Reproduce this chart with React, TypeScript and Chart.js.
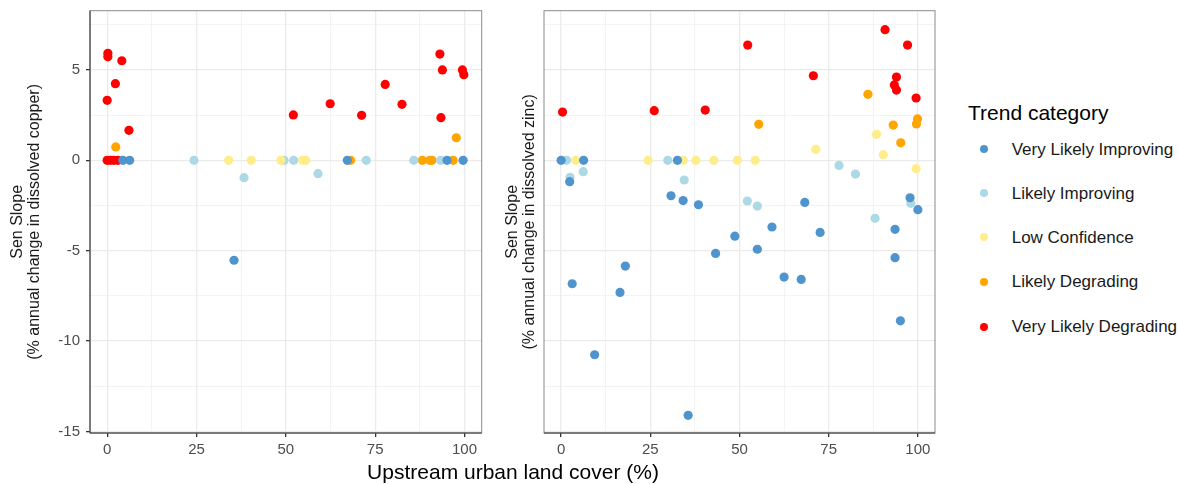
import React, { useEffect, useRef } from "react";
import { Chart, registerables } from "chart.js";

Chart.register(...registerables);

// ---------- data ----------
const categories = [
  "Very Likely Improving",
  "Likely Improving",
  "Low Confidence",
  "Likely Degrading",
  "Very Likely Degrading",
];
const categoryColors = ["#4F94CD", "#ADD8E6", "#FFEC8B", "#FFA500", "#FF0000"];
// higher value = drawn first (underneath)
const categoryDrawOrder = [1, 3, 2, 4, 5];

// copper panel: [upstream urban %, Sen slope]
const copperVeryLikelyImproving = [
  [4.4, 0], [6.3, 0], [35.5, -5.53], [67.2, 0], [95.1, 0], [99.6, 0],
];
const copperLikelyImproving = [
  [24.3, 0], [38.3, -0.96], [49.5, 0], [52.2, 0], [59.0, -0.74], [72.5, 0], [85.8, 0], [93.3, 0],
];
const copperLowConfidence = [
  [34.0, 0], [40.3, 0], [48.6, 0], [54.7, 0], [55.6, 0],
];
const copperLikelyDegrading = [
  [2.4, 0.74], [68.1, 0], [88.2, 0], [90.3, 0], [90.9, 0], [96.8, 0], [97.7, 1.25],
];
const copperVeryLikelyDegrading = [
  [0.2, 5.92], [0.2, 5.73], [4.1, 5.51], [2.3, 4.24], [0, 3.32], [6.1, 1.66],
  [0, 0], [0.9, 0], [1.9, 0], [3.0, 0],
  [52.1, 2.51], [62.4, 3.13], [71.2, 2.49], [77.8, 4.2], [82.5, 3.1],
  [93.1, 5.88], [93.8, 5.0], [93.4, 2.36], [99.4, 5.0], [99.8, 4.74],
];

// zinc panel
const zincVeryLikelyImproving = [
  [0, 0], [6.3, 0], [2.4, -1.18], [32.6, 0], [30.8, -1.96], [34.2, -2.23], [38.5, -2.46],
  [48.7, -4.2], [68.3, -2.33], [97.8, -2.07], [100, -2.73], [59.1, -3.69], [72.6, -3.99],
  [93.6, -3.82], [55.0, -4.92], [43.3, -5.15], [93.6, -5.39], [18.0, -5.85], [3.1, -6.83],
  [16.5, -7.31], [62.5, -6.46], [67.3, -6.59], [95.1, -8.88], [9.4, -10.76], [35.6, -14.11],
];
const zincLikelyImproving = [
  [1.5, 0], [2.5, -0.94], [6.2, -0.63], [29.9, 0], [34.5, -1.09], [52.2, -2.25],
  [55.0, -2.53], [77.9, -0.28], [82.5, -0.76], [98.0, -2.38], [88.0, -3.21],
];
const zincLowConfidence = [
  [4.1, 0], [24.4, 0], [34.2, 0], [37.8, 0], [42.8, 0], [49.4, 0], [54.4, 0],
  [71.4, 0.61], [88.4, 1.44], [90.3, 0.31], [99.5, -0.46],
];
const zincLikelyDegrading = [
  [86.0, 3.65], [55.4, 1.99], [93.1, 1.95], [99.9, 2.29], [99.6, 2.01], [95.2, 0.97],
];
const zincVeryLikelyDegrading = [
  [0.4, 2.67], [26.1, 2.75], [40.4, 2.78], [52.3, 6.38], [70.7, 4.68], [90.8, 7.23],
  [97.1, 6.38], [94.0, 4.61], [93.4, 4.17], [94.0, 3.89], [99.5, 3.45],
];

const copperSeries = [
  copperVeryLikelyImproving, copperLikelyImproving, copperLowConfidence,
  copperLikelyDegrading, copperVeryLikelyDegrading,
];
const zincSeries = [
  zincVeryLikelyImproving, zincLikelyImproving, zincLowConfidence,
  zincLikelyDegrading, zincVeryLikelyDegrading,
];

const xMajorTicks = [0, 25, 50, 75, 100];
const xMinorTicks = [12.5, 37.5, 62.5, 87.5];
const yMajorTicks = [-15, -10, -5, 0, 5];
const yMinorTicks = [-12.5, -7.5, -2.5, 2.5, 7.5];

const xRange = [-4.8, 104.8];
const yRange = [-15.09, 8.28];

const xAxisTitle = "Upstream urban land cover (%)";
const copperYTitle = ["Sen Slope", "(% annual change in dissolved copper)"];
const zincYTitle = ["Sen Slope", "(% annual change in dissolved zinc)"];
const legendTitle = "Trend category";

// ---------- chart helpers ----------
const FONT = "'Liberation Sans', Arial, Helvetica, sans-serif";

const panelFrame = (darkLeft: boolean) => ({
  id: "panelFrame",
  afterDatasetsDraw(chart: any) {
    const { ctx, chartArea: a } = chart;
    ctx.save();
    ctx.lineWidth = 1;
    ctx.strokeStyle = "#8a8a8a";
    ctx.strokeRect(a.left, a.top, a.right - a.left, a.bottom - a.top);
    ctx.strokeStyle = "#333333";
    ctx.beginPath();
    ctx.moveTo(a.left, a.bottom);
    ctx.lineTo(a.right, a.bottom);
    if (darkLeft) {
      ctx.moveTo(a.left, a.top);
      ctx.lineTo(a.left, a.bottom);
    }
    ctx.stroke();
    ctx.restore();
  },
});

function buildChart(
  canvas: HTMLCanvasElement,
  series: number[][][],
  yTitle: string[],
  showYLabels: boolean,
  yAxisWidth: number,
  padRight: number,
  titlePad: number
) {
  const isMajorX = (v: number) => xMajorTicks.includes(v);
  const isMajorY = (v: number) => yMajorTicks.includes(v);
  return new Chart(canvas, {
    type: "scatter",
    data: {
      datasets: series.map((pts, i) => ({
        label: categories[i],
        data: pts.map(([x, y]) => ({ x, y })),
        backgroundColor: categoryColors[i],
        borderWidth: 0,
        pointRadius: 4.6,
        pointHoverRadius: 4.6,
        order: categoryDrawOrder[i],
      })),
    },
    options: {
      animation: false,
      responsive: false,
      devicePixelRatio: 1,
      layout: { padding: { top: 10.7, right: padRight, left: 0, bottom: 0 } },
      plugins: { legend: { display: false }, tooltip: { enabled: false } },
      scales: {
        x: {
          type: "linear",
          min: xRange[0],
          max: xRange[1],
          afterBuildTicks: (s: any) => {
            s.ticks = [...xMajorTicks, ...xMinorTicks]
              .sort((a, b) => a - b)
              .map((v) => ({ value: v }));
          },
          afterFit: (s: any) => {
            s.height = 51;
            s.paddingLeft = 0;
            s.paddingRight = 0;
          },
          border: { display: false },
          grid: {
            color: "#EBEBEB",
            lineWidth: (c: any) => (isMajorX(c.tick.value) ? 1.3 : 0.6),
            drawTicks: true,
            tickLength: 4,
            tickColor: (c: any) => (isMajorX(c.tick.value) ? "#333333" : "rgba(0,0,0,0)"),
          },
          ticks: {
            autoSkip: false,
            maxRotation: 0,
            padding: 4,
            color: "#4D4D4D",
            font: { family: FONT, size: 15 },
            callback: (v: any) => (isMajorX(Number(v)) ? String(v) : ""),
          },
        },
        y: {
          type: "linear",
          min: yRange[0],
          max: yRange[1],
          afterBuildTicks: (s: any) => {
            s.ticks = [...yMajorTicks, ...yMinorTicks]
              .sort((a, b) => a - b)
              .map((v) => ({ value: v }));
          },
          afterFit: (s: any) => {
            s.width = yAxisWidth;
            s.paddingTop = 0;
            s.paddingBottom = 0;
          },
          border: { display: false },
          grid: {
            color: "#EBEBEB",
            lineWidth: (c: any) => (isMajorY(c.tick.value) ? 1.3 : 0.6),
            drawTicks: showYLabels,
            tickLength: 4,
            tickColor: (c: any) => (isMajorY(c.tick.value) ? "#333333" : "rgba(0,0,0,0)"),
          },
          ticks: {
            display: showYLabels,
            padding: 6,
            color: "#4D4D4D",
            font: { family: FONT, size: 15 },
            callback: (v: any) => (isMajorY(Number(v)) ? String(v) : ""),
          },
          title: {
            display: true,
            text: yTitle,
            color: "#1A1A1A",
            font: { family: FONT, size: 16, lineHeight: 1.06 },
            padding: { top: titlePad, bottom: 0 },
          },
        },
      },
    },
    plugins: [panelFrame(showYLabels)],
  } as any);
}

export default function App() {
  const leftRef = useRef<HTMLCanvasElement>(null);
  const rightRef = useRef<HTMLCanvasElement>(null);

  useEffect(() => {
    const c1 = buildChart(leftRef.current!, copperSeries, copperYTitle, true, 90, 8.3, 9);
    const c2 = buildChart(rightRef.current!, zincSeries, zincYTitle, false, 49, 5, 9.5);
    return () => {
      c1.destroy();
      c2.destroy();
    };
  }, []);

  const legendRows = [149.3, 193.3, 237.3, 281.7, 326.7];

  return (
    <div
      style={{
        position: "fixed",
        left: 0,
        top: 0,
        width: 1179,
        height: 484,
        background: "#FFFFFF",
        fontFamily: FONT,
        overflow: "hidden",
      }}
    >
      <canvas
        ref={leftRef}
        width={490}
        height={484}
        style={{ position: "absolute", left: 0, top: 0, width: 490, height: 484 }}
      />
      <canvas
        ref={rightRef}
        width={445}
        height={484}
        style={{ position: "absolute", left: 495, top: 0, width: 445, height: 484 }}
      />
      <div
        style={{
          position: "absolute",
          left: 513,
          top: 460.5,
          transform: "translateX(-50%)",
          fontSize: 21,
          lineHeight: "21px",
          whiteSpace: "nowrap",
          color: "#000000",
        }}
      >
        {xAxisTitle}
      </div>
      <div
        style={{
          position: "absolute",
          left: 968,
          top: 102.2,
          fontSize: 21,
          lineHeight: "21px",
          whiteSpace: "nowrap",
          color: "#000000",
        }}
      >
        {legendTitle}
      </div>
      {categories.map((cat, i) => (
        <React.Fragment key={cat}>
          <div
            style={{
              position: "absolute",
              left: 984.3 - 4,
              top: legendRows[i] - 4,
              width: 8,
              height: 8,
              borderRadius: "50%",
              background: categoryColors[i],
            }}
          />
          <div
            style={{
              position: "absolute",
              left: 1011.7,
              top: legendRows[i] - 8.3,
              fontSize: 17,
              lineHeight: "17px",
              whiteSpace: "nowrap",
              color: "#1A1A1A",
            }}
          >
            {cat}
          </div>
        </React.Fragment>
      ))}
    </div>
  );
}
